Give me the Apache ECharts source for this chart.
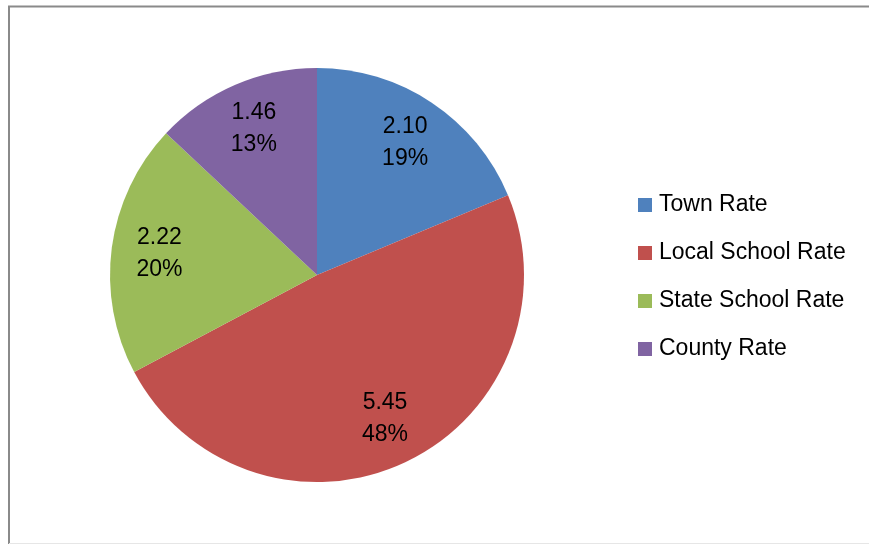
<!DOCTYPE html>
<html>
<head>
<meta charset="utf-8">
<script src="https://cdn.jsdelivr.net/npm/echarts@6/dist/echarts.min.js"></script>
<style>
html,body{margin:0;padding:0;background:#fff;}
#c{width:869px;height:544px;}
</style>
</head>
<body>
<div id="c"></div>
<script>
const categories = ['Town Rate', 'Local School Rate', 'State School Rate', 'County Rate'];
const values = [2.10, 5.45, 2.22, 1.46];
const colors = ['#4F81BD', '#C0504D', '#9BBB59', '#8064A2'];

const pieData = categories.map((name, i) => ({ name: name, value: values[i], itemStyle: { color: colors[i] } }));
const labelData = categories.map((name, i) => ({ name: name, value: values[i] }));

const chart = echarts.init(document.getElementById('c'), null, { renderer: 'canvas' });
chart.setOption({
  animation: false,
  backgroundColor: '#ffffff',
  graphic: [
    { type: 'polyline', shape: { points: [[9, 544], [9, 6.5], [869, 6.5]] }, style: { stroke: '#8a8a8a', lineWidth: 2, fill: null } },
    { type: 'line', shape: { x1: 9, y1: 543.5, x2: 869, y2: 543.5 }, style: { stroke: '#e6e6e6', lineWidth: 1 } }
  ],
  legend: {
    orient: 'vertical',
    left: 633,
    top: 188,
    itemWidth: 14,
    itemHeight: 14,
    itemGap: 24,
    icon: 'rect',
    data: categories,
    textStyle: { fontFamily: 'Liberation Sans', fontSize: 23, color: '#000', lineHeight: 24, padding: [0, 0, 0, 2] },
    selectedMode: false
  },
  series: [
    {
      type: 'pie',
      center: [317, 275],
      radius: [0, 207],
      startAngle: 90,
      clockwise: true,
      label: { show: false },
      labelLine: { show: false },
      itemStyle: { borderWidth: 0 },
      emphasis: { disabled: true },
      data: pieData
    },
    {
      type: 'pie',
      center: [317, 275],
      radius: [105, 207],
      startAngle: 90,
      clockwise: true,
      silent: true,
      percentPrecision: 0,
      itemStyle: { color: 'rgba(0,0,0,0)' },
      emphasis: { disabled: true },
      labelLine: { show: false },
      label: {
        show: true,
        position: 'inside',
        fontFamily: 'Liberation Sans',
        fontSize: 23,
        lineHeight: 32,
        color: '#000',
        formatter: function (p) { return p.value.toFixed(2) + '\n' + p.percent + '%'; }
      },
      data: labelData
    }
  ]
});
</script>
</body>
</html>
